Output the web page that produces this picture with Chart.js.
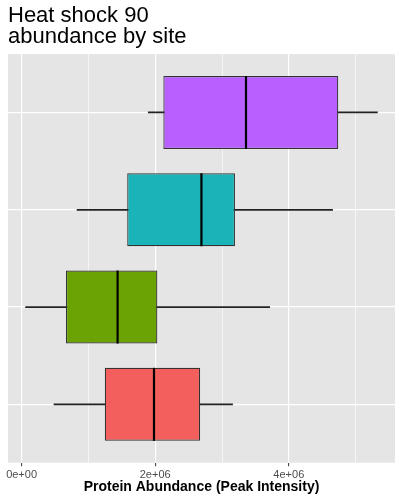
<!DOCTYPE html>
<html>
<head>
<meta charset="utf-8">
<script src="https://cdn.jsdelivr.net/npm/chart.js@4.4.1/dist/chart.umd.min.js"></script>
<style>
  html, body { margin: 0; padding: 0; background: #ffffff; }
  canvas { display: block; }
</style>
</head>
<body>
<canvas id="c" width="400" height="500"></canvas>
<script>
// ---- data ----
const categories  = ['Site 1', 'Site 2', 'Site 3', 'Site 4'];   // bottom → top
const whiskerLow  = [0.485e6, 0.060e6, 0.830e6, 1.896e6];
const q1          = [1.246e6, 0.665e6, 1.581e6, 2.122e6];
const median      = [1.982e6, 1.437e6, 2.692e6, 3.359e6];
const q3          = [2.673e6, 2.032e6, 3.194e6, 4.740e6];
const whiskerHigh = [3.158e6, 3.714e6, 4.655e6, 5.326e6];
const fillColors  = ['#F35F5C', '#6BA304', '#19B3B8', '#B760FF'];
const xMajorTicks = [0, 2e6, 4e6];
const xTickLabels = ['0e+00', '2e+06', '4e+06'];
const xMinorTicks = [1e6, 3e6, 5e6];

const titleLines = ['Heat shock 90', 'abundance by site'];
const xTitle = 'Protein Abundance (Peak Intensity)';

// ggplot-like 5% expansion of the continuous axis
const lo = Math.min(...whiskerLow), hi = Math.max(...whiskerHigh);
const padX = 0.05 * (hi - lo);

const FONT = "'Liberation Sans', Arial, Helvetica, sans-serif";

const panelBg = {
  id: 'panelBg',
  beforeDraw(chart) {
    const { ctx, chartArea: a } = chart;
    ctx.save();
    ctx.fillStyle = '#E5E5E5';
    ctx.fillRect(a.left, a.top, a.right - a.left, a.bottom - a.top);
    ctx.restore();
  }
};

const medianLines = {
  id: 'medianLines',
  afterDatasetsDraw(chart) {
    const { ctx } = chart;
    const xs = chart.scales.x, ys = chart.scales.y;
    const boxMeta = chart.getDatasetMeta(1);
    ctx.save();
    ctx.strokeStyle = '#000000';
    ctx.lineWidth = 2.2;
    median.forEach((m, i) => {
      const el = boxMeta.data[i];
      const half = el.height / 2;
      const x = xs.getPixelForValue(m);
      const y = ys.getPixelForValue(i + 1);
      ctx.beginPath();
      ctx.moveTo(x, y - half);
      ctx.lineTo(x, y + half);
      ctx.stroke();
    });
    ctx.restore();
  }
};

new Chart(document.getElementById('c'), {
  type: 'bar',
  data: {
    datasets: [
      {
        label: 'whiskers',
        data: categories.map((c, i) => ({ y: i + 1, x: [whiskerLow[i], whiskerHigh[i]] })),
        backgroundColor: '#222222',
        borderWidth: 0,
        barThickness: 1.1,
        grouped: false,
        order: 2
      },
      {
        label: 'boxes',
        data: categories.map((c, i) => ({ y: i + 1, x: [q1[i], q3[i]] })),
        backgroundColor: fillColors,
        borderColor: '#333333',
        borderWidth: 1.2,
        borderSkipped: false,
        barPercentage: 0.75,
        categoryPercentage: 1,
        grouped: false,
        order: 1
      }
    ]
  },
  options: {
    indexAxis: 'y',
    responsive: false,
    animation: false,
    layout: { padding: { left: 8, right: 5, top: 0, bottom: 0 } },
    plugins: {
      legend: { display: false },
      tooltip: { enabled: false },
      title: {
        display: true,
        text: titleLines,
        align: 'start',
        color: '#000000',
        font: { family: FONT, size: 22, weight: 'normal', lineHeight: 0.98 },
        padding: { top: 5, bottom: 6 }
      }
    },
    scales: {
      x: {
        type: 'linear',
        min: lo - padX,
        max: hi + padX,
        afterBuildTicks(scale) {
          scale.ticks = [...xMajorTicks, ...xMinorTicks].sort((a, b) => a - b).map(v => ({ value: v }));
        },
        afterFit(scale) {
          scale.height = 37.3;
        },
        ticks: {
          autoSkip: false,
          maxRotation: 0,
          padding: 2.5,
          color: '#4D4D4D',
          font: { family: FONT, size: 11 },
          callback(v) {
            const k = xMajorTicks.indexOf(v);
            return k >= 0 ? xTickLabels[k] : '';
          }
        },
        grid: {
          color: '#FFFFFF',
          lineWidth: ctx => (ctx.tick && xMajorTicks.includes(ctx.tick.value)) ? 1.2 : 0.6,
          drawTicks: true,
          tickLength: 3.5,
          tickWidth: 1,
          tickColor: ctx => (ctx.tick && xMajorTicks.includes(ctx.tick.value)) ? '#333333' : 'rgba(0,0,0,0)'
        },
        border: { display: false },
        title: {
          display: true,
          text: xTitle,
          color: '#000000',
          font: { family: FONT, size: 14, weight: 'bold', lineHeight: 1.2 },
          padding: { top: 0, bottom: 4.6 }
        }
      },
      y: {
        type: 'linear',
        offset: false,
        min: 0.4,
        max: categories.length + 0.6,
        afterBuildTicks(scale) {
          scale.ticks = categories.map((c, i) => ({ value: i + 1 }));
        },
        ticks: { display: false },
        grid: { color: '#FFFFFF', lineWidth: 1.2, drawTicks: false, offset: false },
        border: { display: false }
      }
    }
  },
  plugins: [panelBg, medianLines]
});
</script>
</body>
</html>
